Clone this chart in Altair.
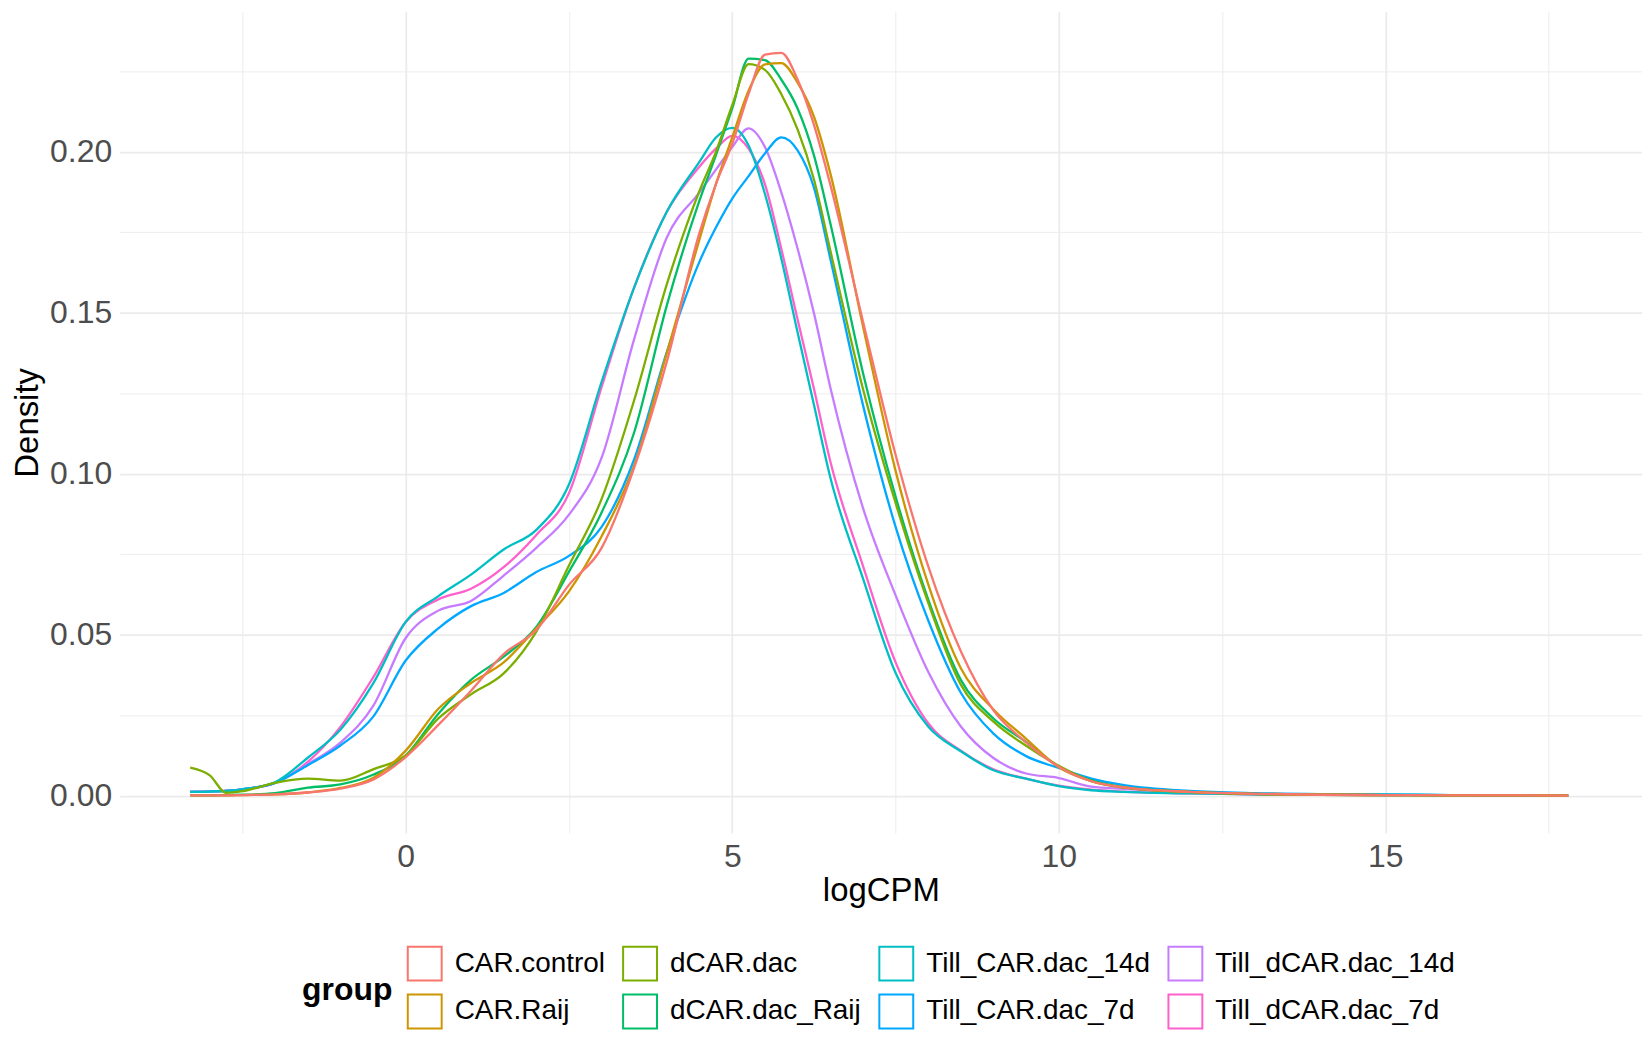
import altair as alt
import pandas as pd

# shared logCPM grid
X = [-3.3, -3.0, -2.75, -2.5, -2.0, -1.5, -1.0, -0.5, 0.0, 0.5, 1.0, 1.5, 2.0, 2.5,
     3.0, 3.5, 4.0, 4.5, 4.75, 5.0, 5.25, 5.5, 5.75, 6.0, 6.25, 6.5, 7.0, 7.5, 8.0,
     8.5, 9.0, 9.5, 10.0, 10.5, 11.0, 12.0, 13.0, 14.0, 15.0, 16.0, 17.0, 17.8]

groups = ["CAR.control", "CAR.Raij", "dCAR.dac", "dCAR.dac_Raij",
          "Till_CAR.dac_14d", "Till_CAR.dac_7d", "Till_dCAR.dac_14d", "Till_dCAR.dac_7d"]
colors = ["#F8766D", "#CD9600", "#7CAE00", "#00BE67",
          "#00BFC4", "#00A9FF", "#C77CFF", "#FF61CC"]

CAR_control = [0.0001, 0.0001, 0.0001, 0.0002, 0.0004, 0.001, 0.0022, 0.005, 0.012, 0.022,
               0.0326, 0.044, 0.0515, 0.0655, 0.077, 0.102, 0.135, 0.175, 0.190, 0.2025,
               0.218, 0.2302, 0.2308, 0.2225, 0.2085, 0.190, 0.1475, 0.106, 0.0713,
               0.0449, 0.0265, 0.0166, 0.009, 0.0045, 0.0026, 0.0012, 0.0006, 0.0003,
               0.0002, 0.0001, 0.0001, 0.00005]
CAR_Raij = [0.0001, 0.0001, 0.0001, 0.0002, 0.0004, 0.001, 0.0024, 0.0055, 0.014, 0.027,
            0.035, 0.0414, 0.052, 0.0635, 0.0806, 0.1027, 0.1377, 0.173, 0.190, 0.2045,
            0.219, 0.2272, 0.2276, 0.2215, 0.211, 0.1935, 0.146, 0.101, 0.0657, 0.0396,
            0.0268, 0.0177, 0.0088, 0.0045, 0.0026, 0.0012, 0.0006, 0.0003, 0.0002,
            0.0001, 0.0001, 0.00005]
dCAR_dac = [0.0087, 0.0063, 0.0009, 0.0014, 0.0040, 0.0053, 0.0047, 0.0082, 0.0125, 0.024,
            0.0315, 0.038, 0.051, 0.0715, 0.0922, 0.123, 0.159, 0.188, 0.200, 0.2145,
            0.2273, 0.2255, 0.218, 0.207, 0.1915, 0.1695, 0.1265, 0.091, 0.060, 0.0345,
            0.023, 0.0155, 0.0093, 0.0045, 0.0025, 0.0011, 0.0005, 0.0003, 0.0002,
            0.0001, 0.0001, 0.00005]
dCAR_dac_Raij = [0.0001, 0.0001, 0.0002, 0.0003, 0.0008, 0.0025, 0.0035, 0.0065, 0.0125,
                 0.0255, 0.036, 0.0432, 0.0524, 0.0696, 0.088, 0.113, 0.1525, 0.185, 0.199,
                 0.2135, 0.2290, 0.2285, 0.2225, 0.2135, 0.199, 0.178, 0.1315, 0.093, 0.061,
                 0.036, 0.024, 0.0167, 0.009, 0.0048, 0.0027, 0.0012, 0.0006, 0.0003,
                 0.0002, 0.0001, 0.0001, 0.00005]
Till_CAR_dac_14d = [0.0012, 0.0013, 0.0015, 0.002, 0.0042, 0.0118, 0.0205, 0.0348, 0.054,
                    0.062, 0.0687, 0.0765, 0.0826, 0.0967, 0.1286, 0.158, 0.1815, 0.197,
                    0.2045, 0.2075, 0.202, 0.187, 0.167, 0.144, 0.1215, 0.099, 0.0676,
                    0.0382, 0.0215, 0.0138, 0.0079, 0.0053, 0.003, 0.0017, 0.0012, 0.0007,
                    0.0004, 0.0003, 0.0003, 0.0002, 0.0001, 0.00005]
Till_CAR_dac_7d = [0.0012, 0.0013, 0.0015, 0.002, 0.004, 0.0095, 0.0156, 0.0245, 0.042,
                   0.052, 0.0589, 0.063, 0.0695, 0.0745, 0.0835, 0.1046, 0.138, 0.166,
                   0.1765, 0.1855, 0.1925, 0.1995, 0.2045, 0.2005, 0.189, 0.167, 0.1215,
                   0.0836, 0.0545, 0.032, 0.0193, 0.0123, 0.0086, 0.0053, 0.0033, 0.0015,
                   0.0008, 0.0005, 0.0004, 0.0002, 0.0001, 0.00005]
Till_dCAR_dac_14d = [0.0013, 0.0014, 0.0016, 0.002, 0.004, 0.0098, 0.0165, 0.0278, 0.049,
                     0.0575, 0.0605, 0.0684, 0.077, 0.0873, 0.105, 0.142, 0.1735, 0.1875,
                     0.1945, 0.2015, 0.2073, 0.2015, 0.1875, 0.170, 0.150, 0.127, 0.0895,
                     0.0623, 0.0385, 0.0215, 0.0117, 0.0069, 0.0055, 0.0028, 0.0021, 0.001,
                     0.0005, 0.0003, 0.0002, 0.0001, 0.0001, 0.00005]
Till_dCAR_dac_7d = [0.0012, 0.0013, 0.0015, 0.002, 0.004, 0.0105, 0.0214, 0.0367, 0.054,
                    0.061, 0.0643, 0.071, 0.081, 0.094, 0.127, 0.158, 0.1815, 0.1955,
                    0.201, 0.2050, 0.201, 0.190, 0.170, 0.148, 0.1265, 0.104, 0.0715,
                    0.0415, 0.0225, 0.014, 0.0082, 0.0053, 0.0031, 0.0019, 0.0013, 0.0007,
                    0.0004, 0.0003, 0.0002, 0.0002, 0.0001, 0.00005]

series = [CAR_control, CAR_Raij, dCAR_dac, dCAR_dac_Raij,
          Till_CAR_dac_14d, Till_CAR_dac_7d, Till_dCAR_dac_14d, Till_dCAR_dac_7d]

# legend order laid out row by row (matches ggplot's column-wise fill)
legend_order = ["CAR.control", "dCAR.dac", "Till_CAR.dac_14d", "Till_dCAR.dac_14d",
                "CAR.Raij", "dCAR.dac_Raij", "Till_CAR.dac_7d", "Till_dCAR.dac_7d"]
color_of = dict(zip(groups, colors))
legend_colors = [color_of[g] for g in legend_order]

x_ticks = [-2.5, 0, 2.5, 5, 7.5, 10, 12.5, 15, 17.5]
y_ticks = [0, 0.025, 0.05, 0.075, 0.1, 0.125, 0.15, 0.175, 0.2, 0.225]

rows = []
for g, ys in reversed(list(zip(groups, series))):
    for x, y in zip(X, ys):
        rows.append({"group": g, "logCPM": x, "density": y})
df = pd.DataFrame(rows)

major_x = "abs(datum.value/5 - round(datum.value/5)) < 0.001"
major_y = "abs(datum.value*20 - round(datum.value*20)) < 0.001"
FONT = "Liberation Sans"

chart = alt.Chart(df).mark_line(interpolate="monotone", strokeWidth=2.3).encode(
    x=alt.X("logCPM:Q",
            scale=alt.Scale(domain=[-4.38, 18.93], nice=False, zero=False),
            axis=alt.Axis(values=x_ticks, title="logCPM",
                          labelExpr=f"{major_x} ? format(datum.value, 'd') : ''",
                          gridColor="#EBEBEB",
                          gridWidth={"condition": {"test": major_x, "value": 1.8}, "value": 0.9},
                          ticks=False, domain=False, labelPadding=9,
                          labelFontSize=32, labelColor="#4D4D4D", labelFont=FONT,
                          titleFontSize=33, titleColor="black", titleFont=FONT,
                          titleFontWeight="normal", titleBaseline="alphabetic", titleY=68)),
    y=alt.Y("density:Q",
            scale=alt.Scale(domain=[-0.0116, 0.2436], nice=False, zero=False),
            axis=alt.Axis(values=y_ticks, title="Density",
                          labelExpr=f"{major_y} ? format(datum.value, '.2f') : ''",
                          gridColor="#EBEBEB",
                          gridWidth={"condition": {"test": major_y, "value": 1.8}, "value": 0.9},
                          ticks=False, domain=False, labelPadding=8,
                          labelFontSize=32, labelColor="#4D4D4D", labelFont=FONT,
                          titleFontSize=33, titleColor="black", titleFont=FONT,
                          titleFontWeight="normal", titleAngle=-90,
                          titleBaseline="alphabetic", titleX=-82)),
    color=alt.Color("group:N",
                    scale=alt.Scale(domain=legend_order, range=legend_colors),
                    legend=alt.Legend(orient="none", legendX=183, legendY=937,
                                      direction="horizontal", columns=4,
                                      title="group", titleOrient="left",
                                      titleAnchor="middle", titleBaseline="middle",
                                      titleFontSize=32, titleFontWeight="bold",
                                      titleColor="black", titleFont=FONT, titlePadding=14,
                                      labelFontSize=28, labelColor="black", labelFont=FONT,
                                      labelOffset=12, symbolType="square", symbolSize=1156,
                                      symbolStrokeWidth=2, symbolFillColor="white",
                                      rowPadding=6, columnPadding=14, padding=0,
                                      labelLimit=400)),
).properties(
    width=1527, height=824,
    padding={"left": 112, "top": 2, "right": 0, "bottom": 208},
    autosize=alt.AutoSizeParams(type="none"),
    background="white",
).configure_view(stroke=None)

chart.save("out.html", embed_options={"renderer": "svg", "actions": False})
